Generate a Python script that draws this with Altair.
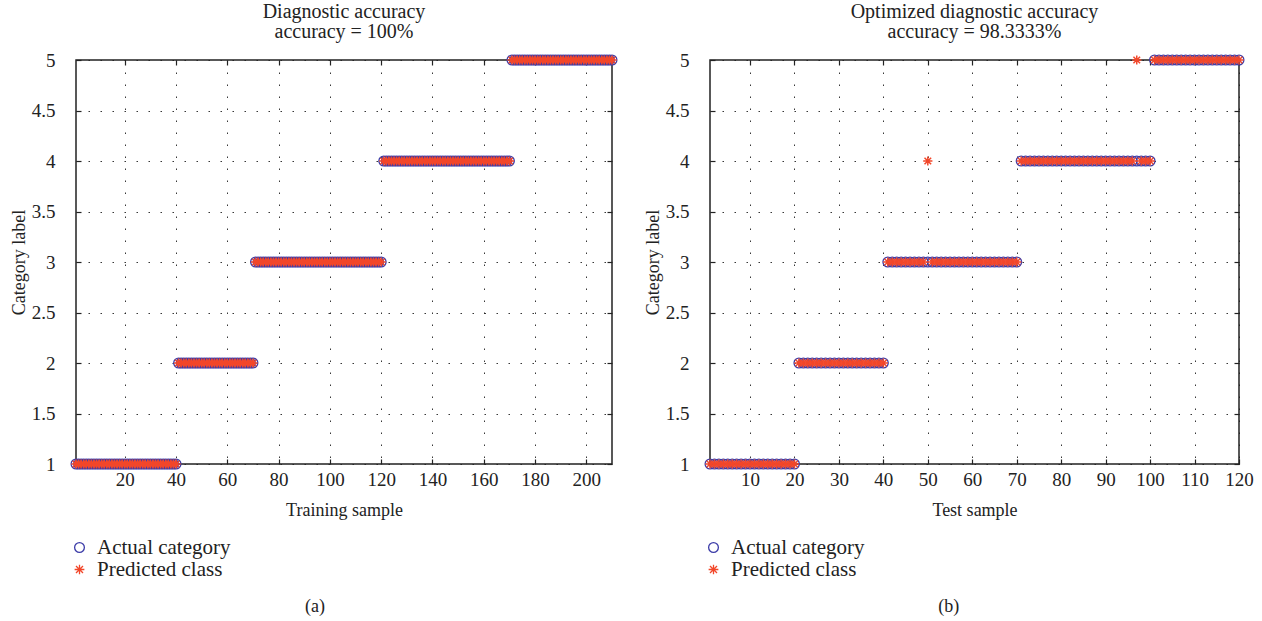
import altair as alt
import pandas as pd

# ---------------- data ----------------
SERIES = ["Actual category", "Predicted class"]

# panel (a): training samples 1..210, runs of (class, count)
train_runs = [(1, 40), (2, 30), (3, 50), (4, 50), (5, 40)]
train_pred_errors = {}            # 100 % accuracy

# panel (b): test samples 1..120
test_runs = [(1, 20), (2, 20), (3, 30), (4, 30), (5, 20)]
test_pred_errors = {50: 4, 97: 5}  # two misclassified samples

train_xticks = [20, 40, 60, 80, 100, 120, 140, 160, 180, 200]
test_xticks = [10, 20, 30, 40, 50, 60, 70, 80, 90, 100, 110, 120]
yticks = [1, 1.5, 2, 2.5, 3, 3.5, 4, 4.5, 5]


def build(runs, errors):
    actual = []
    for cls, n in runs:
        actual += [cls] * n
    xs = list(range(1, len(actual) + 1))
    pred = [errors.get(x, a) for x, a in zip(xs, actual)]
    a = pd.DataFrame({"sample": xs, "label": actual, "series": SERIES[0]})
    p = pd.DataFrame({"sample": xs, "label": pred, "series": SERIES[1]})
    return a, p


FONT = "Liberation Serif"
BLUE = "#3c3ca8"
RED = "#f2472a"
INK = "#222222"
ASTERISK = "M0,-1L0,1M-1,0L1,0M-0.72,-0.72L0.72,0.72M-0.72,0.72L0.72,-0.72"

H = 404


def legend():
    return alt.Legend(
        title=None, orient="none", legendX=-7, legendY=477, direction="vertical",
        labelFont=FONT, labelFontSize=21, labelColor=INK, labelOffset=7,
        symbolSize=95, symbolStrokeWidth=1.3, rowPadding=0, padding=0,
    )


def panel(runs, errors, xmax, xticks, xtitle, title_lines, caption, width):
    a, p = build(runs, errors)
    xs = alt.Scale(domain=[1, xmax], nice=False, zero=False)
    ys = alt.Scale(domain=[1, 5], nice=False, zero=False)
    color = alt.Color("series:N", scale=alt.Scale(domain=SERIES, range=[BLUE, RED]), legend=legend())
    shape = alt.Shape("series:N", scale=alt.Scale(domain=SERIES, range=["circle", ASTERISK]), legend=legend())
    common = dict(
        domain=False, ticks=True, tickSize=5, tickColor=INK, tickWidth=1.2, offset=-5,
        labelFont=FONT, labelFontSize=19, labelColor=INK,
        titleFont=FONT, titleFontSize=18, titleFontWeight="normal", titleColor=INK,
        gridDash=[1.5, 10.5], gridColor=INK, gridWidth=1, gridOpacity=0.9,
    )
    actual = alt.Chart(a).mark_point(filled=False, size=95, strokeWidth=1.3, opacity=1).encode(
        x=alt.X("sample:Q", scale=xs, axis=alt.Axis(orient="bottom", values=xticks, title=xtitle, grid=True,
                                                     labelPadding=6, titlePadding=12, labelFlush=False, **common)),
        y=alt.Y("label:Q", scale=ys, axis=alt.Axis(orient="left", values=yticks, title="Category label", grid=True,
                                                    format="~g", labelPadding=21, titlePadding=3, **common)),
        color=color, shape=shape,
    )
    pred = alt.Chart(p).mark_point(filled=False, size=85, strokeWidth=1.5, opacity=1).encode(
        x=alt.X("sample:Q", scale=xs, axis=alt.Axis(orient="top", values=xticks, title=None, labels=False, grid=False,
                                                     **common)),
        y=alt.Y("label:Q", scale=ys, axis=alt.Axis(orient="right", values=yticks, title=None, labels=False, grid=False,
                                                    **common)),
        color=color, shape=shape,
    )
    layer = alt.layer(actual, pred).resolve_axis(x="independent", y="independent").properties(
        width=width, height=H,
        view=alt.ViewConfig(stroke=INK, strokeWidth=1.5),
        title=alt.TitleParams(title_lines, font=FONT, fontSize=20, fontWeight="normal", color=INK,
                              anchor="middle", frame="group", offset=9, lineHeight=20.5),
    )
    return alt.vconcat(layer).resolve_scale(color="independent", shape="independent").properties(
        title=alt.TitleParams(caption, orient="bottom", font=FONT, fontSize=18, fontWeight="normal", color=INK,
                              anchor="middle", frame="bounds", offset=17),
    )


left = panel(train_runs, train_pred_errors, 210, train_xticks, "Training sample",
             ["Diagnostic accuracy", "accuracy = 100%"], "(a)", 536)
right = panel(test_runs, test_pred_errors, 120, test_xticks, "Test sample",
              ["Optimized diagnostic accuracy", "accuracy = 98.3333%"], "(b)", 529)

chart = alt.hconcat(left, right, spacing=22).resolve_scale(
    color="independent", shape="independent"
).configure_view(stroke=INK, strokeWidth=1.5).configure(
    background="white", padding={"left": 9, "top": 0, "right": 5, "bottom": 5}
)

chart.save("out.html", embed_options={"renderer": "svg", "actions": False})
